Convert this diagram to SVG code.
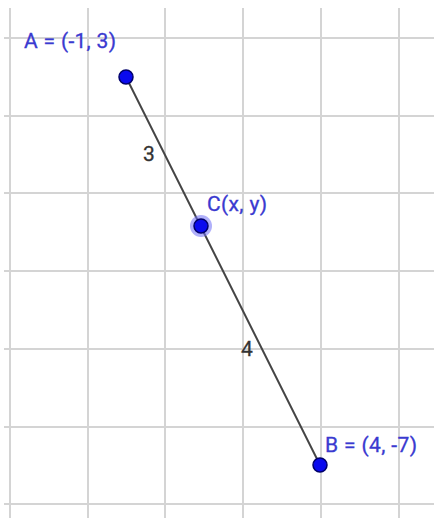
<svg xmlns="http://www.w3.org/2000/svg" width="434" height="518" viewBox="0 0 434 518">
<style>
.grid line{stroke:#d4d4d4;stroke-width:2}
.pt{fill:#0a0aee;stroke:#00006a;stroke-width:1.5}
.lbl{font-family:Roboto,"Liberation Sans",sans-serif;font-size:21px;fill:#3a3ad0;stroke:#3a3ad0;stroke-width:0.3}
.num{font-family:Roboto,"Liberation Sans",sans-serif;font-size:21px;fill:#333;stroke:#333;stroke-width:0.3}
</style>
<rect width="434" height="518" fill="#fff"/>
<g class="grid">
<line x1="10" y1="8" x2="10" y2="518"/>
<line x1="88" y1="8" x2="88" y2="518"/>
<line x1="165" y1="8" x2="165" y2="518"/>
<line x1="243" y1="8" x2="243" y2="518"/>
<line x1="321" y1="8" x2="321" y2="518"/>
<line x1="399" y1="8" x2="399" y2="518"/>
<line x1="4" y1="38" x2="434" y2="38"/>
<line x1="4" y1="116" x2="434" y2="116"/>
<line x1="4" y1="193" x2="434" y2="193"/>
<line x1="4" y1="271" x2="434" y2="271"/>
<line x1="4" y1="349" x2="434" y2="349"/>
<line x1="4" y1="427" x2="434" y2="427"/>
<line x1="4" y1="504" x2="434" y2="504"/>
</g>
<g id="connectors">
<line x1="126" y1="77" x2="320" y2="465" stroke="#444" stroke-width="2"/>
<text class="num" x="143" y="161">3</text>
<text class="num" x="241" y="356">4</text>
</g>
<g id="A">
<circle class="pt" cx="126" cy="77" r="7"/>
<text class="lbl" x="24" y="48" textLength="92" lengthAdjust="spacing">A = (-1, 3)</text>
</g>
<g id="C">
<circle cx="201" cy="226" r="11" fill="#6f6ff5" opacity="0.55"/>
<circle class="pt" cx="201" cy="226" r="7"/>
<text class="lbl" x="207" y="211" textLength="60" lengthAdjust="spacing">C(x, y)</text>
</g>
<g id="B">
<circle class="pt" cx="320" cy="465" r="7"/>
<text class="lbl" x="325" y="452" textLength="92" lengthAdjust="spacing">B = (4, -7)</text>
</g>
</svg>
